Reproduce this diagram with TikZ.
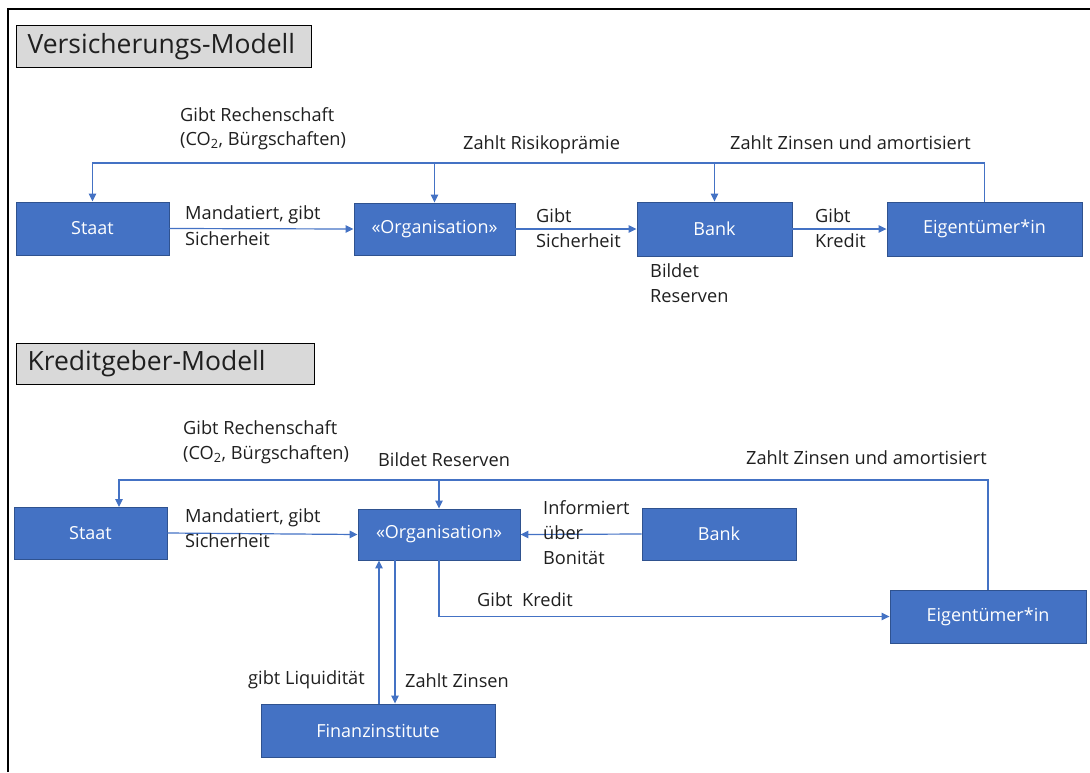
\documentclass[tikz,border=0pt]{standalone}
\usepackage{fontspec}
\setmainfont{Open Sans}
\usetikzlibrary{arrows.meta}
\definecolor{boxblue}{HTML}{4472C4}
\definecolor{boxedge}{HTML}{2F528F}
\definecolor{linkblue}{HTML}{4472C4}
\definecolor{titlegray}{HTML}{D9D9D9}
\definecolor{txt}{HTML}{1F1F1F}
\tikzset{
  actor/.style={draw=boxedge, line width=0.9pt, fill=boxblue, text=white, inner sep=0pt,
    font=\fontsize{18}{21}\selectfont},
  titlebox/.style={draw=black, line width=1.1pt, fill=titlegray, anchor=north west,
    inner xsep=11pt, inner ysep=0pt, align=left, text=txt,
    font=\fontsize{26.5}{31}\selectfont},
  lbl/.style={anchor=west, inner sep=0pt, text=txt, text height=13pt, text depth=4.5pt,
    font=\fontsize{18.2}{21}\selectfont},
  arr/.style={draw=linkblue, line width=1.2pt, -{Triangle[length=8pt,width=7.5pt]}},
  link/.style={draw=linkblue, line width=1.2pt}
}
\begin{document}
\begin{tikzpicture}[x=1pt,y=-1pt]
\useasboundingbox (0,0) rectangle (1090,772);
% frame
\draw[line width=2.4pt, black] (8,772) -- (8,9) -- (1090,9);

% ---------- Versicherungs-Modell ----------
\node[titlebox, text width=273pt, minimum height=42pt] (title1) at (16,25) {Versicherungs-Modell};

\node[actor, minimum width=153pt, minimum height=53pt] (staat1) at (92.5,228.5) {Staat};
\node[actor, minimum width=161pt, minimum height=52pt] (org1) at (434.5,229) {«Organisation»};
\node[actor, minimum width=155pt, minimum height=54pt] (bank1) at (714.5,229) {Bank};
\node[actor, minimum width=195pt, minimum height=54pt] (eig1) at (984.5,229) {Eigentümer*in};

\coordinate (top1) at (92.5,163);
\draw[arr] (eig1.north) -- (eig1.north |- top1) -| (bank1.north);
\draw[arr] (bank1.north |- top1) -| (org1.north);
\draw[arr] (org1.north |- top1) -| (staat1.north);

\draw[arr] (staat1.east) -- (org1.west);
\draw[arr] (org1.east) -- (bank1.west);
\draw[arr] (bank1.east) -- (eig1.west);

\node[lbl] (l1a) at (180,117) {Gibt Rechenschaft};
\node[lbl] (l1b) at (180,141) {(CO\textsubscript{2}, Bürgschaften)};
\node[lbl] (l1c) at (463,145) {Zahlt Risikoprämie};
\node[lbl] (l1d) at (730,145) {Zahlt Zinsen und amortisiert};
\node[lbl] (l1e) at (185,215) {Mandatiert, gibt};
\node[lbl] (l1f) at (185,241) {Sicherheit};
\node[lbl] (l1g) at (536,218) {Gibt};
\node[lbl] (l1h) at (536,243) {Sicherheit};
\node[lbl] (l1i) at (815,218) {Gibt};
\node[lbl] (l1j) at (815,243) {Kredit};
\node[lbl] (l1k) at (650,273) {Bildet};
\node[lbl] (l1l) at (650,298) {Reserven};

% ---------- Kreditgeber-Modell ----------
\node[titlebox, text width=276pt, minimum height=41pt] (title2) at (16,343) {Kreditgeber-Modell};

\node[actor, minimum width=153pt, minimum height=52pt] (staat2) at (90.5,533) {Staat};
\node[actor, minimum width=162pt, minimum height=51pt] (org2) at (439,534.5) {«Organisation»};
\node[actor, minimum width=154pt, minimum height=52pt] (bank2) at (719,534) {Bank};
\node[actor, minimum width=196pt, minimum height=53pt] (eig2) at (988,616.5) {Eigentümer*in};
\node[actor, minimum width=234pt, minimum height=53pt] (fin) at (378,730.5) {Finanzinstitute};

\coordinate (top2) at (119,480);
\coordinate (staatin) at (119,507);
\coordinate (upx) at (379,0);
\coordinate (downx) at (395,0);

\draw[arr] (eig2.north) -- (eig2.north |- top2) -| (org2.north);
\draw[arr] (org2.north |- top2) -- (top2) -- (staatin);
\draw[arr] (staat2.east) -- (org2.west);
\draw[arr] (bank2.west) -- (org2.east);
\draw[arr] (org2.south) |- (eig2.west);
\draw[arr] (fin.north -| upx) -- (org2.south -| upx);
\draw[arr] (org2.south -| downx) -- (fin.north -| downx);

\node[lbl] (l2a) at (183,430) {Gibt Rechenschaft};
\node[lbl] (l2b) at (183,455) {(CO\textsubscript{2}, Bürgschaften)};
\node[lbl] (l2c) at (378,462) {Bildet Reserven};
\node[lbl] (l2d) at (746,460) {Zahlt Zinsen und amortisiert};
\node[lbl] (l2e) at (185,518) {Mandatiert, gibt};
\node[lbl] (l2f) at (185,543) {Sicherheit};
\node[lbl] (l2g) at (543,510) {Informiert};
\node[lbl] (l2h) at (543,535) {über};
\node[lbl] (l2i) at (543,560) {Bonität};
\node[lbl] (l2j) at (477,602) {Gibt\ \ Kredit};
\node[lbl] (l2k) at (248,680) {gibt Liquidität};
\node[lbl] (l2l) at (405,683) {Zahlt Zinsen};
\end{tikzpicture}
\end{document}
